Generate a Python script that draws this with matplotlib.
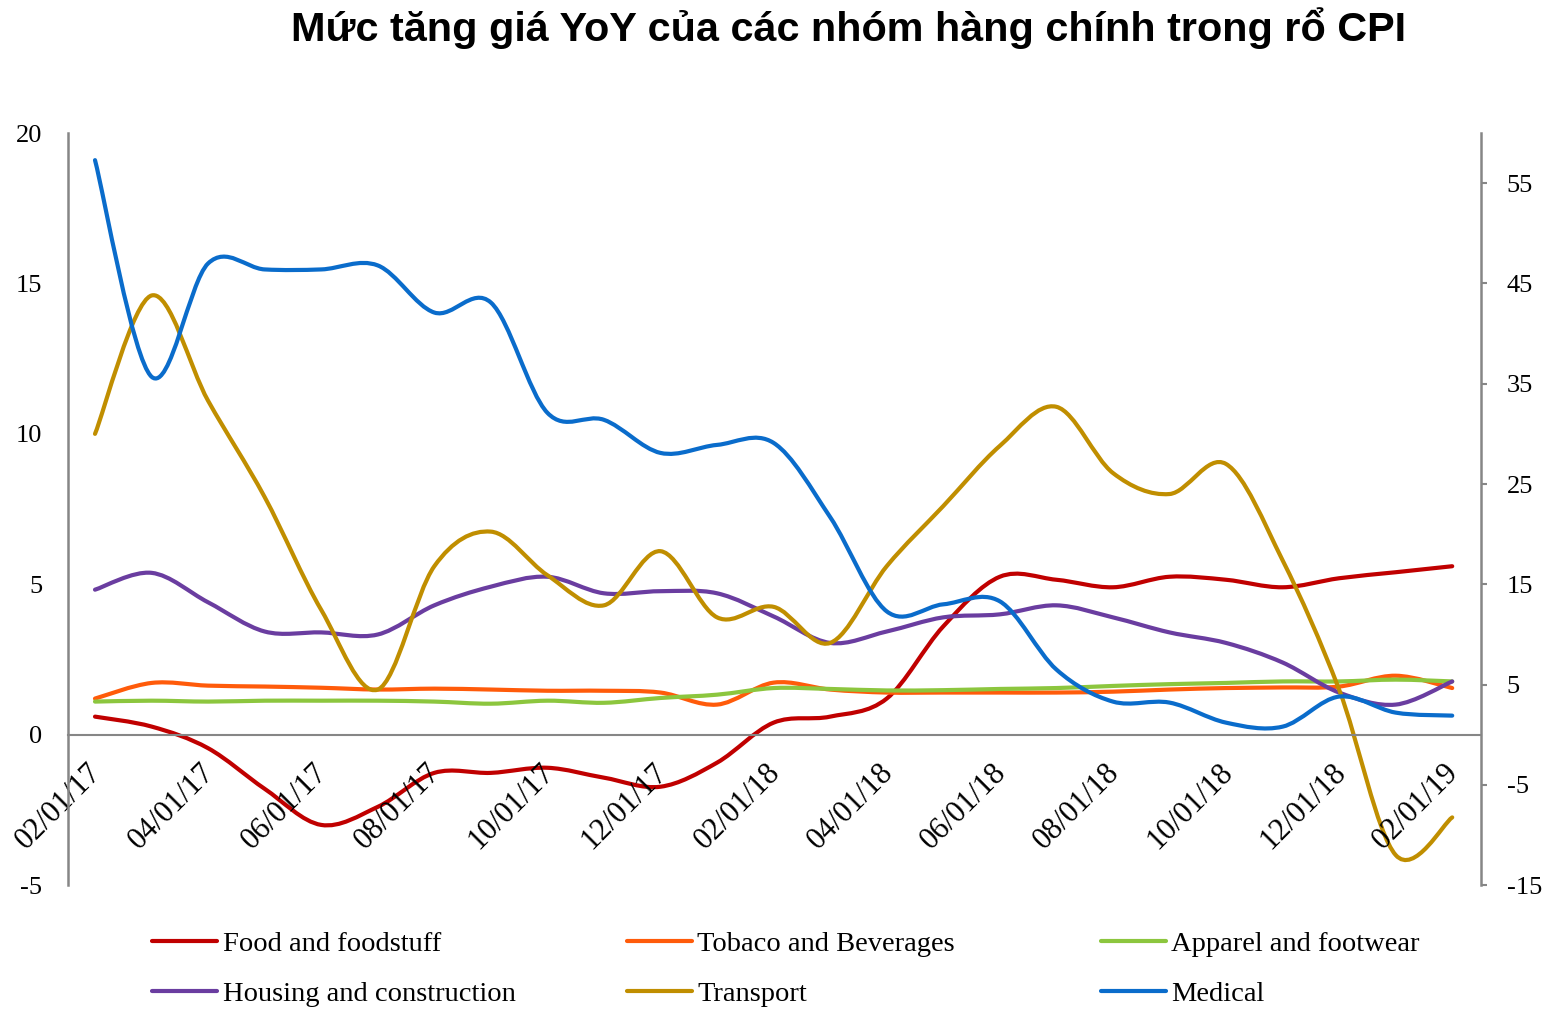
import matplotlib.pyplot as plt
from matplotlib.path import Path
from matplotlib.patches import PathPatch
from matplotlib.lines import Line2D
from matplotlib.transforms import ScaledTranslation
import pandas as pd

plt.rcParams['axes.unicode_minus'] = False

# monthly points, Feb 2017 .. Feb 2019
months = pd.date_range('2017-02-01', periods=25, freq='MS')
tick_labels = [d.strftime('%m/%d/%y') for d in months[::2]]

# left axis (%)
food = [0.6, 0.27, -0.45, -1.8, -3.0, -2.4, -1.27, -1.27, -1.1, -1.43, -1.73, -0.93,
        0.4, 0.6, 1.2, 3.6, 5.25, 5.15, 4.9, 5.25, 5.15, 4.9, 5.2, 5.4, 5.6]
tobacco = [1.2, 1.72, 1.63, 1.6, 1.56, 1.5, 1.53, 1.5, 1.46, 1.46, 1.4, 1.0,
           1.73, 1.5, 1.4, 1.4, 1.4, 1.4, 1.43, 1.5, 1.55, 1.57, 1.6, 1.96, 1.55]
apparel = [1.1, 1.13, 1.1, 1.13, 1.13, 1.13, 1.1, 1.03, 1.13, 1.06, 1.22, 1.33,
           1.55, 1.52, 1.47, 1.48, 1.52, 1.55, 1.62, 1.68, 1.72, 1.77, 1.77, 1.83, 1.77]
housing = [4.82, 5.38, 4.4, 3.43, 3.4, 3.33, 4.3, 4.92, 5.25, 4.7, 4.77, 4.7,
           3.93, 3.05, 3.43, 3.9, 4.0, 4.3, 3.9, 3.4, 3.05, 2.4, 1.4, 1.0, 1.77]
transport = [10.0, 14.6, 11.1, 7.9, 4.15, 1.5, 5.6, 6.75, 5.3, 4.3, 6.1, 3.9,
             4.25, 3.05, 5.6, 7.6, 9.6, 10.9, 8.7, 8.0, 9.0, 5.8, 1.5, -4.0, -2.75]
# right axis (%)
medical = [57.3, 35.7, 47.0, 46.4, 46.4, 46.8, 42.1, 43.1, 32.1, 31.4, 28.1, 28.9,
           29.1, 21.7, 12.3, 13.0, 13.3, 6.5, 3.3, 3.2, 1.2, 0.8, 3.8, 2.2, 1.9]

colors = {
    'Food and foodstuff': '#C00000',
    'Tobaco and Beverages': '#FF5B0A',
    'Apparel and footwear': '#8CC63E',
    'Housing and construction': '#6A3DA0',
    'Transport': '#C08E00',
    'Medical': '#0A6CCB',
}


def smooth_path(xs, ys):
    # bezier through the points, like excel's "smoothed line"
    pts = list(zip(xs, ys))
    verts = [pts[0]]
    codes = [Path.MOVETO]
    n = len(pts)
    for i in range(n - 1):
        p0 = pts[max(i - 1, 0)]
        p1 = pts[i]
        p2 = pts[i + 1]
        p3 = pts[min(i + 2, n - 1)]
        c1 = (p1[0] + (p2[0] - p0[0]) / 6, p1[1] + (p2[1] - p0[1]) / 6)
        c2 = (p2[0] - (p3[0] - p1[0]) / 6, p2[1] - (p3[1] - p1[1]) / 6)
        verts += [c1, c2, p2]
        codes += [Path.CURVE4] * 3
    return Path(verts, codes)


serif = 'Liberation Serif'
grey = '#868686'
lw = 3.0

fig = plt.figure(figsize=(15.59, 10.15), dpi=100)
ax = fig.add_axes([0.0436, 0.128, 0.9064, 0.7409])
ax2 = ax.twinx()

# spines first (moving a spine resets its ticks)
for s in ['top', 'right']:
    ax.spines[s].set_visible(False)
ax.spines['bottom'].set_position(('data', 0))
ax.spines['bottom'].set_color(grey)
ax.spines['bottom'].set_linewidth(1.5)
ax.spines['left'].set_color(grey)
ax.spines['left'].set_linewidth(1.8)
for s in ['top', 'left', 'bottom']:
    ax2.spines[s].set_visible(False)
ax2.spines['right'].set_color(grey)
ax2.spines['right'].set_linewidth(1.8)

x = list(range(len(months)))
left_series = [('Food and foodstuff', food), ('Tobaco and Beverages', tobacco),
               ('Apparel and footwear', apparel), ('Housing and construction', housing),
               ('Transport', transport)]
for name, vals in left_series:
    ax.add_patch(PathPatch(smooth_path(x, vals), facecolor='none', edgecolor=colors[name],
                           lw=lw, capstyle='round', joinstyle='round'))
ax2.add_patch(PathPatch(smooth_path(x, medical), facecolor='none', edgecolor=colors['Medical'],
                        lw=lw, capstyle='round', joinstyle='round'))

ax.set_xlim(-0.478, 24.51)
ax.set_ylim(-5, 20)
ax.set_yticks([-5, 0, 5, 10, 15, 20])
ax2.set_ylim(-15, 60)
ax2.set_yticks(list(range(-15, 60, 10)))

ax.tick_params(axis='x', length=0, pad=17, labelsize=22, labelrotation=45)
ax.tick_params(axis='y', length=0, pad=18.5, labelsize=19)
ax2.tick_params(axis='y', length=4.5, width=1.5, color=grey, direction='out', pad=14, labelsize=19)
ax.set_xticks(x[::2])
ax.set_xticklabels(tick_labels)
shift = ScaledTranslation(-0.08, 0, fig.dpi_scale_trans)
for lab in ax.get_xticklabels():
    lab.set_fontfamily(serif)
    lab.set_horizontalalignment('right')
    lab.set_verticalalignment('top')
    lab.set_rotation_mode('anchor')
    lab.set_transform(lab.get_transform() + shift)
for lab in ax.get_yticklabels() + ax2.get_yticklabels():
    lab.set_fontfamily(serif)

fig.text(0.544, 0.972, 'Mức tăng giá YoY của các nhóm hàng chính trong rổ CPI',
         ha='center', va='center', fontsize=29.8, fontweight='bold',
         family=['Liberation Sans', 'DejaVu Sans'])

# legend: three columns of two, evenly spaced like the original
legend_cols = [['Food and foodstuff', 'Housing and construction'],
               ['Tobaco and Beverages', 'Transport'],
               ['Apparel and footwear', 'Medical']]
col_x = [0.0975, 0.402, 0.706]
for cx, names in zip(col_x, legend_cols):
    handles = [Line2D([], [], color=colors[n], lw=lw, solid_capstyle='round') for n in names]
    fig.legend(handles, names, loc='upper left', bbox_to_anchor=(cx, 0.083),
               frameon=False, borderpad=0, borderaxespad=0, handlelength=2.3,
               handletextpad=0.18, labelspacing=0.85,
               prop={'family': serif, 'size': 20.5})

fig.savefig('out.png', dpi=100)
